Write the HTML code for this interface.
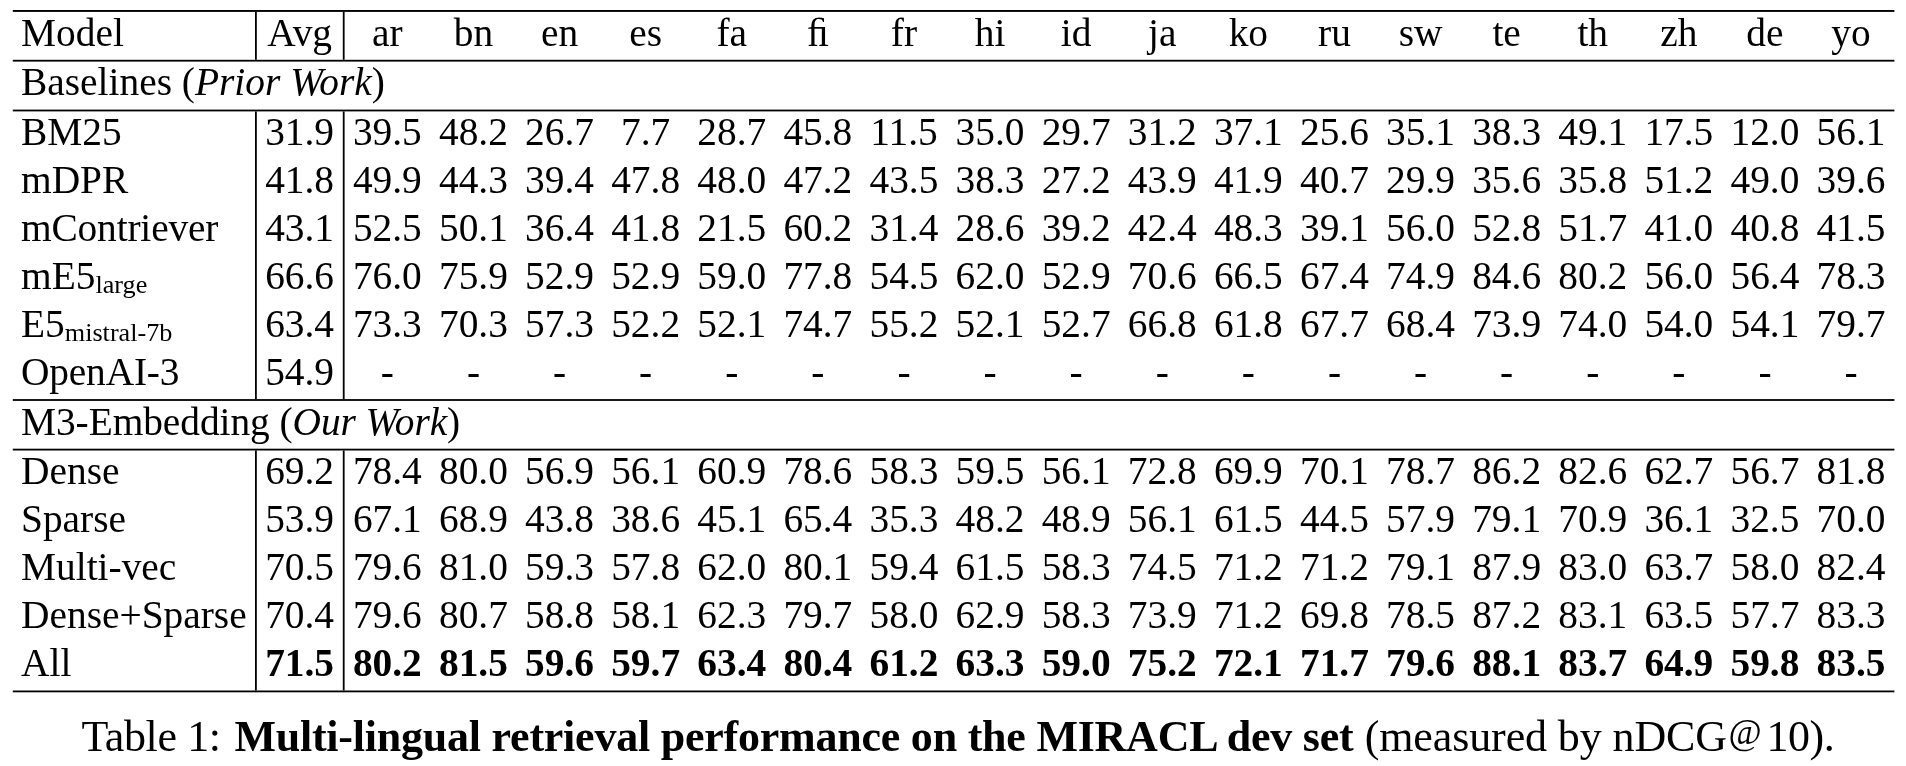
<!DOCTYPE html>
<html><head><meta charset="utf-8"><style>
html,body{margin:0;padding:0;background:#fff;width:1906px;height:766px;overflow:hidden}
svg{display:block;will-change:transform}
text{font-family:"Liberation Serif",serif;font-size:39.4px;fill:#000}
.b{font-weight:bold}
.i{font-style:italic}
.sub{font-size:26.2px}
.cap{font-size:44.0px}
rect{fill:#000}
</style></head><body>
<svg width="1906" height="766" viewBox="0 0 1906 766">
<rect x="12.8" y="10.0" width="1881.6000000000001" height="1.9"/>
<rect x="12.8" y="59.8" width="1881.6000000000001" height="1.8"/>
<rect x="12.8" y="109.6" width="1881.6000000000001" height="1.8"/>
<rect x="12.8" y="399.1" width="1881.6000000000001" height="1.8"/>
<rect x="12.8" y="448.7" width="1881.6000000000001" height="1.8"/>
<rect x="12.8" y="690.5" width="1881.6000000000001" height="1.8"/>
<rect x="255.0" y="11.9" width="1.8" height="47.9"/>
<rect x="255.0" y="111.4" width="1.8" height="287.70000000000005"/>
<rect x="255.0" y="450.5" width="1.8" height="240.0"/>
<rect x="342.8" y="11.9" width="1.8" height="47.9"/>
<rect x="342.8" y="111.4" width="1.8" height="287.70000000000005"/>
<rect x="342.8" y="450.5" width="1.8" height="240.0"/>
<text x="21.0" y="46">Model</text>
<text x="299.6" y="46" text-anchor="middle">Avg</text>
<text x="387.35" y="46" text-anchor="middle">ar</text>
<text x="473.45" y="46" text-anchor="middle">bn</text>
<text x="559.55" y="46" text-anchor="middle">en</text>
<text x="645.65" y="46" text-anchor="middle">es</text>
<text x="731.75" y="46" text-anchor="middle">fa</text>
<text x="817.85" y="46" text-anchor="middle">ﬁ</text>
<text x="903.95" y="46" text-anchor="middle">fr</text>
<text x="990.05" y="46" text-anchor="middle">hi</text>
<text x="1076.15" y="46" text-anchor="middle">id</text>
<text x="1162.25" y="46" text-anchor="middle">ja</text>
<text x="1248.35" y="46" text-anchor="middle">ko</text>
<text x="1334.45" y="46" text-anchor="middle">ru</text>
<text x="1420.55" y="46" text-anchor="middle">sw</text>
<text x="1506.65" y="46" text-anchor="middle">te</text>
<text x="1592.75" y="46" text-anchor="middle">th</text>
<text x="1678.85" y="46" text-anchor="middle">zh</text>
<text x="1764.95" y="46" text-anchor="middle">de</text>
<text x="1851.05" y="46" text-anchor="middle">yo</text>
<text x="21.0" y="95">Baselines (<tspan class="i">Prior Work</tspan>)</text>
<text x="21.0" y="435" textLength="439.2" lengthAdjust="spacing">M3-Embedding (<tspan class="i">Our Work</tspan>)</text>
<text x="21.0" y="145">BM25</text>
<text x="299.6" y="145" text-anchor="middle">31.9</text>
<text x="387.35" y="145" text-anchor="middle">39.5</text>
<text x="473.45" y="145" text-anchor="middle">48.2</text>
<text x="559.55" y="145" text-anchor="middle">26.7</text>
<text x="645.65" y="145" text-anchor="middle">7.7</text>
<text x="731.75" y="145" text-anchor="middle">28.7</text>
<text x="817.85" y="145" text-anchor="middle">45.8</text>
<text x="903.95" y="145" text-anchor="middle">11.5</text>
<text x="990.05" y="145" text-anchor="middle">35.0</text>
<text x="1076.15" y="145" text-anchor="middle">29.7</text>
<text x="1162.25" y="145" text-anchor="middle">31.2</text>
<text x="1248.35" y="145" text-anchor="middle">37.1</text>
<text x="1334.45" y="145" text-anchor="middle">25.6</text>
<text x="1420.55" y="145" text-anchor="middle">35.1</text>
<text x="1506.65" y="145" text-anchor="middle">38.3</text>
<text x="1592.75" y="145" text-anchor="middle">49.1</text>
<text x="1678.85" y="145" text-anchor="middle">17.5</text>
<text x="1764.95" y="145" text-anchor="middle">12.0</text>
<text x="1851.05" y="145" text-anchor="middle">56.1</text>
<text x="21.0" y="193">mDPR</text>
<text x="299.6" y="193" text-anchor="middle">41.8</text>
<text x="387.35" y="193" text-anchor="middle">49.9</text>
<text x="473.45" y="193" text-anchor="middle">44.3</text>
<text x="559.55" y="193" text-anchor="middle">39.4</text>
<text x="645.65" y="193" text-anchor="middle">47.8</text>
<text x="731.75" y="193" text-anchor="middle">48.0</text>
<text x="817.85" y="193" text-anchor="middle">47.2</text>
<text x="903.95" y="193" text-anchor="middle">43.5</text>
<text x="990.05" y="193" text-anchor="middle">38.3</text>
<text x="1076.15" y="193" text-anchor="middle">27.2</text>
<text x="1162.25" y="193" text-anchor="middle">43.9</text>
<text x="1248.35" y="193" text-anchor="middle">41.9</text>
<text x="1334.45" y="193" text-anchor="middle">40.7</text>
<text x="1420.55" y="193" text-anchor="middle">29.9</text>
<text x="1506.65" y="193" text-anchor="middle">35.6</text>
<text x="1592.75" y="193" text-anchor="middle">35.8</text>
<text x="1678.85" y="193" text-anchor="middle">51.2</text>
<text x="1764.95" y="193" text-anchor="middle">49.0</text>
<text x="1851.05" y="193" text-anchor="middle">39.6</text>
<text x="21.0" y="241" textLength="197.4" lengthAdjust="spacing">mContriever</text>
<text x="299.6" y="241" text-anchor="middle">43.1</text>
<text x="387.35" y="241" text-anchor="middle">52.5</text>
<text x="473.45" y="241" text-anchor="middle">50.1</text>
<text x="559.55" y="241" text-anchor="middle">36.4</text>
<text x="645.65" y="241" text-anchor="middle">41.8</text>
<text x="731.75" y="241" text-anchor="middle">21.5</text>
<text x="817.85" y="241" text-anchor="middle">60.2</text>
<text x="903.95" y="241" text-anchor="middle">31.4</text>
<text x="990.05" y="241" text-anchor="middle">28.6</text>
<text x="1076.15" y="241" text-anchor="middle">39.2</text>
<text x="1162.25" y="241" text-anchor="middle">42.4</text>
<text x="1248.35" y="241" text-anchor="middle">48.3</text>
<text x="1334.45" y="241" text-anchor="middle">39.1</text>
<text x="1420.55" y="241" text-anchor="middle">56.0</text>
<text x="1506.65" y="241" text-anchor="middle">52.8</text>
<text x="1592.75" y="241" text-anchor="middle">51.7</text>
<text x="1678.85" y="241" text-anchor="middle">41.0</text>
<text x="1764.95" y="241" text-anchor="middle">40.8</text>
<text x="1851.05" y="241" text-anchor="middle">41.5</text>
<text x="21.0" y="289">mE5<tspan class="sub" dy="4">large</tspan></text>
<text x="299.6" y="289" text-anchor="middle">66.6</text>
<text x="387.35" y="289" text-anchor="middle">76.0</text>
<text x="473.45" y="289" text-anchor="middle">75.9</text>
<text x="559.55" y="289" text-anchor="middle">52.9</text>
<text x="645.65" y="289" text-anchor="middle">52.9</text>
<text x="731.75" y="289" text-anchor="middle">59.0</text>
<text x="817.85" y="289" text-anchor="middle">77.8</text>
<text x="903.95" y="289" text-anchor="middle">54.5</text>
<text x="990.05" y="289" text-anchor="middle">62.0</text>
<text x="1076.15" y="289" text-anchor="middle">52.9</text>
<text x="1162.25" y="289" text-anchor="middle">70.6</text>
<text x="1248.35" y="289" text-anchor="middle">66.5</text>
<text x="1334.45" y="289" text-anchor="middle">67.4</text>
<text x="1420.55" y="289" text-anchor="middle">74.9</text>
<text x="1506.65" y="289" text-anchor="middle">84.6</text>
<text x="1592.75" y="289" text-anchor="middle">80.2</text>
<text x="1678.85" y="289" text-anchor="middle">56.0</text>
<text x="1764.95" y="289" text-anchor="middle">56.4</text>
<text x="1851.05" y="289" text-anchor="middle">78.3</text>
<text x="21.0" y="337">E5<tspan class="sub" dy="4">mistral-7b</tspan></text>
<text x="299.6" y="337" text-anchor="middle">63.4</text>
<text x="387.35" y="337" text-anchor="middle">73.3</text>
<text x="473.45" y="337" text-anchor="middle">70.3</text>
<text x="559.55" y="337" text-anchor="middle">57.3</text>
<text x="645.65" y="337" text-anchor="middle">52.2</text>
<text x="731.75" y="337" text-anchor="middle">52.1</text>
<text x="817.85" y="337" text-anchor="middle">74.7</text>
<text x="903.95" y="337" text-anchor="middle">55.2</text>
<text x="990.05" y="337" text-anchor="middle">52.1</text>
<text x="1076.15" y="337" text-anchor="middle">52.7</text>
<text x="1162.25" y="337" text-anchor="middle">66.8</text>
<text x="1248.35" y="337" text-anchor="middle">61.8</text>
<text x="1334.45" y="337" text-anchor="middle">67.7</text>
<text x="1420.55" y="337" text-anchor="middle">68.4</text>
<text x="1506.65" y="337" text-anchor="middle">73.9</text>
<text x="1592.75" y="337" text-anchor="middle">74.0</text>
<text x="1678.85" y="337" text-anchor="middle">54.0</text>
<text x="1764.95" y="337" text-anchor="middle">54.1</text>
<text x="1851.05" y="337" text-anchor="middle">79.7</text>
<text x="21.0" y="385" textLength="158.5" lengthAdjust="spacing">OpenAI-3</text>
<text x="299.6" y="385" text-anchor="middle">54.9</text>
<text x="387.35" y="385" text-anchor="middle">-</text>
<text x="473.45" y="385" text-anchor="middle">-</text>
<text x="559.55" y="385" text-anchor="middle">-</text>
<text x="645.65" y="385" text-anchor="middle">-</text>
<text x="731.75" y="385" text-anchor="middle">-</text>
<text x="817.85" y="385" text-anchor="middle">-</text>
<text x="903.95" y="385" text-anchor="middle">-</text>
<text x="990.05" y="385" text-anchor="middle">-</text>
<text x="1076.15" y="385" text-anchor="middle">-</text>
<text x="1162.25" y="385" text-anchor="middle">-</text>
<text x="1248.35" y="385" text-anchor="middle">-</text>
<text x="1334.45" y="385" text-anchor="middle">-</text>
<text x="1420.55" y="385" text-anchor="middle">-</text>
<text x="1506.65" y="385" text-anchor="middle">-</text>
<text x="1592.75" y="385" text-anchor="middle">-</text>
<text x="1678.85" y="385" text-anchor="middle">-</text>
<text x="1764.95" y="385" text-anchor="middle">-</text>
<text x="1851.05" y="385" text-anchor="middle">-</text>
<text x="21.0" y="484">Dense</text>
<text x="299.6" y="484" text-anchor="middle">69.2</text>
<text x="387.35" y="484" text-anchor="middle">78.4</text>
<text x="473.45" y="484" text-anchor="middle">80.0</text>
<text x="559.55" y="484" text-anchor="middle">56.9</text>
<text x="645.65" y="484" text-anchor="middle">56.1</text>
<text x="731.75" y="484" text-anchor="middle">60.9</text>
<text x="817.85" y="484" text-anchor="middle">78.6</text>
<text x="903.95" y="484" text-anchor="middle">58.3</text>
<text x="990.05" y="484" text-anchor="middle">59.5</text>
<text x="1076.15" y="484" text-anchor="middle">56.1</text>
<text x="1162.25" y="484" text-anchor="middle">72.8</text>
<text x="1248.35" y="484" text-anchor="middle">69.9</text>
<text x="1334.45" y="484" text-anchor="middle">70.1</text>
<text x="1420.55" y="484" text-anchor="middle">78.7</text>
<text x="1506.65" y="484" text-anchor="middle">86.2</text>
<text x="1592.75" y="484" text-anchor="middle">82.6</text>
<text x="1678.85" y="484" text-anchor="middle">62.7</text>
<text x="1764.95" y="484" text-anchor="middle">56.7</text>
<text x="1851.05" y="484" text-anchor="middle">81.8</text>
<text x="21.0" y="532">Sparse</text>
<text x="299.6" y="532" text-anchor="middle">53.9</text>
<text x="387.35" y="532" text-anchor="middle">67.1</text>
<text x="473.45" y="532" text-anchor="middle">68.9</text>
<text x="559.55" y="532" text-anchor="middle">43.8</text>
<text x="645.65" y="532" text-anchor="middle">38.6</text>
<text x="731.75" y="532" text-anchor="middle">45.1</text>
<text x="817.85" y="532" text-anchor="middle">65.4</text>
<text x="903.95" y="532" text-anchor="middle">35.3</text>
<text x="990.05" y="532" text-anchor="middle">48.2</text>
<text x="1076.15" y="532" text-anchor="middle">48.9</text>
<text x="1162.25" y="532" text-anchor="middle">56.1</text>
<text x="1248.35" y="532" text-anchor="middle">61.5</text>
<text x="1334.45" y="532" text-anchor="middle">44.5</text>
<text x="1420.55" y="532" text-anchor="middle">57.9</text>
<text x="1506.65" y="532" text-anchor="middle">79.1</text>
<text x="1592.75" y="532" text-anchor="middle">70.9</text>
<text x="1678.85" y="532" text-anchor="middle">36.1</text>
<text x="1764.95" y="532" text-anchor="middle">32.5</text>
<text x="1851.05" y="532" text-anchor="middle">70.0</text>
<text x="21.0" y="580">Multi-vec</text>
<text x="299.6" y="580" text-anchor="middle">70.5</text>
<text x="387.35" y="580" text-anchor="middle">79.6</text>
<text x="473.45" y="580" text-anchor="middle">81.0</text>
<text x="559.55" y="580" text-anchor="middle">59.3</text>
<text x="645.65" y="580" text-anchor="middle">57.8</text>
<text x="731.75" y="580" text-anchor="middle">62.0</text>
<text x="817.85" y="580" text-anchor="middle">80.1</text>
<text x="903.95" y="580" text-anchor="middle">59.4</text>
<text x="990.05" y="580" text-anchor="middle">61.5</text>
<text x="1076.15" y="580" text-anchor="middle">58.3</text>
<text x="1162.25" y="580" text-anchor="middle">74.5</text>
<text x="1248.35" y="580" text-anchor="middle">71.2</text>
<text x="1334.45" y="580" text-anchor="middle">71.2</text>
<text x="1420.55" y="580" text-anchor="middle">79.1</text>
<text x="1506.65" y="580" text-anchor="middle">87.9</text>
<text x="1592.75" y="580" text-anchor="middle">83.0</text>
<text x="1678.85" y="580" text-anchor="middle">63.7</text>
<text x="1764.95" y="580" text-anchor="middle">58.0</text>
<text x="1851.05" y="580" text-anchor="middle">82.4</text>
<text x="21.0" y="628">Dense+Sparse</text>
<text x="299.6" y="628" text-anchor="middle">70.4</text>
<text x="387.35" y="628" text-anchor="middle">79.6</text>
<text x="473.45" y="628" text-anchor="middle">80.7</text>
<text x="559.55" y="628" text-anchor="middle">58.8</text>
<text x="645.65" y="628" text-anchor="middle">58.1</text>
<text x="731.75" y="628" text-anchor="middle">62.3</text>
<text x="817.85" y="628" text-anchor="middle">79.7</text>
<text x="903.95" y="628" text-anchor="middle">58.0</text>
<text x="990.05" y="628" text-anchor="middle">62.9</text>
<text x="1076.15" y="628" text-anchor="middle">58.3</text>
<text x="1162.25" y="628" text-anchor="middle">73.9</text>
<text x="1248.35" y="628" text-anchor="middle">71.2</text>
<text x="1334.45" y="628" text-anchor="middle">69.8</text>
<text x="1420.55" y="628" text-anchor="middle">78.5</text>
<text x="1506.65" y="628" text-anchor="middle">87.2</text>
<text x="1592.75" y="628" text-anchor="middle">83.1</text>
<text x="1678.85" y="628" text-anchor="middle">63.5</text>
<text x="1764.95" y="628" text-anchor="middle">57.7</text>
<text x="1851.05" y="628" text-anchor="middle">83.3</text>
<text x="21.0" y="676">All</text>
<text x="299.6" y="676" text-anchor="middle" class="b">71.5</text>
<text x="387.35" y="676" text-anchor="middle" class="b">80.2</text>
<text x="473.45" y="676" text-anchor="middle" class="b">81.5</text>
<text x="559.55" y="676" text-anchor="middle" class="b">59.6</text>
<text x="645.65" y="676" text-anchor="middle" class="b">59.7</text>
<text x="731.75" y="676" text-anchor="middle" class="b">63.4</text>
<text x="817.85" y="676" text-anchor="middle" class="b">80.4</text>
<text x="903.95" y="676" text-anchor="middle" class="b">61.2</text>
<text x="990.05" y="676" text-anchor="middle" class="b">63.3</text>
<text x="1076.15" y="676" text-anchor="middle" class="b">59.0</text>
<text x="1162.25" y="676" text-anchor="middle" class="b">75.2</text>
<text x="1248.35" y="676" text-anchor="middle" class="b">72.1</text>
<text x="1334.45" y="676" text-anchor="middle" class="b">71.7</text>
<text x="1420.55" y="676" text-anchor="middle" class="b">79.6</text>
<text x="1506.65" y="676" text-anchor="middle" class="b">88.1</text>
<text x="1592.75" y="676" text-anchor="middle" class="b">83.7</text>
<text x="1678.85" y="676" text-anchor="middle" class="b">64.9</text>
<text x="1764.95" y="676" text-anchor="middle" class="b">59.8</text>
<text x="1851.05" y="676" text-anchor="middle" class="b">83.5</text>
<text x="81.4" y="751" class="cap" textLength="139.6" lengthAdjust="spacing">Table 1:</text>
<text x="234.4" y="751" class="cap b" textLength="1119.2" lengthAdjust="spacing">Multi-lingual retrieval performance on the MIRACL dev set</text>
<text x="1364.7" y="751" class="cap" textLength="362.4" lengthAdjust="spacing">(measured by nDCG</text>
<text x="1728.6" y="744.2" style="font-size:36px">@</text>
<text x="1766.5" y="751" class="cap" textLength="68.2" lengthAdjust="spacing">10).</text>
</svg>
</body></html>
